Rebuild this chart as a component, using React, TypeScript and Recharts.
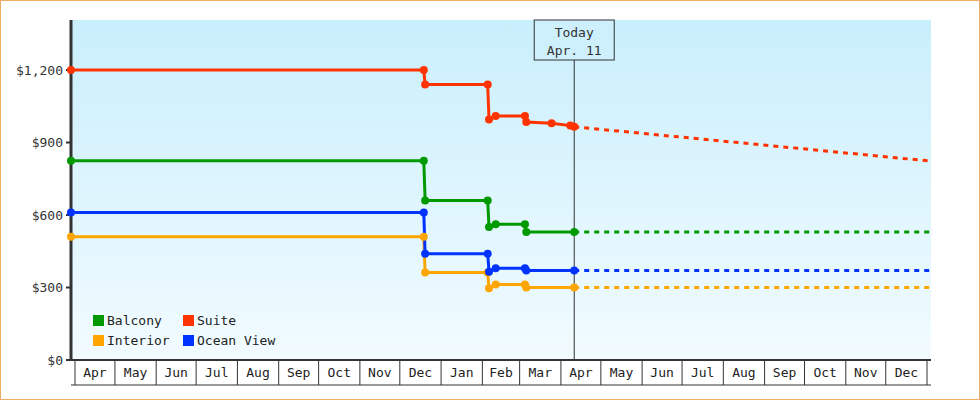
import React from 'react';
import { LineChart, Line, XAxis, YAxis, CartesianGrid, ReferenceLine } from 'recharts';

const FONT = '"DejaVu Sans Mono", monospace';
const DAY = 86400000;
const toDay = (s: string) => Date.parse(s + 'T00:00:00Z') / DAY;

// time range and "today"
const domainStart = '2024-03-29';
const domainEnd = '2026-01-04';
const today = '2025-04-11';
const todayLines = ['Today', 'Apr. 11'];

// month cells on the x axis
const firstMonth = { year: 2024, month: 3 }; // April
const monthLabels = [
  'Apr', 'May', 'Jun', 'Jul', 'Aug', 'Sep', 'Oct', 'Nov', 'Dec',
  'Jan', 'Feb', 'Mar', 'Apr', 'May', 'Jun', 'Jul', 'Aug', 'Sep', 'Oct', 'Nov', 'Dec'
];

const yTicks = [0, 300, 600, 900, 1200];
const yMax = 1407;

// price history
const historyDates = [
  '2024-03-29', '2024-12-19', '2024-12-20', '2025-02-05', '2025-02-06',
  '2025-02-11', '2025-03-05', '2025-03-06', '2025-04-11'
];
const balconyValues = [825, 825, 660, 660, 550, 562, 562, 530, 530];
const interiorValues = [510, 510, 362, 362, 297, 312, 312, 300, 300];
const oceanValues = [610, 610, 440, 440, 365, 380, 380, 370, 370];

const suiteDates = [
  '2024-03-29', '2024-12-19', '2024-12-20', '2025-02-05', '2025-02-06',
  '2025-02-11', '2025-03-05', '2025-03-06', '2025-03-25', '2025-04-08', '2025-04-11'
];
const suiteValues = [1200, 1200, 1140, 1140, 995, 1010, 1010, 985, 980, 970, 965];

// forecast from today to the end of the range
const forecastDates = [today, domainEnd];
const balconyForecast = [530, 530];
const suiteForecast = [965, 823];
const interiorForecast = [300, 300];
const oceanForecast = [370, 370];

const seriesNames = ['Balcony', 'Suite', 'Interior', 'Ocean View'];
const seriesColors = ['#009900', '#ff3300', '#ffa500', '#0033ff'];

const pts = (dates: string[], values: number[]) =>
  dates.map((d, i) => ({ x: toDay(d), y: values[i] }));

const history = [
  pts(historyDates, balconyValues),
  pts(suiteDates, suiteValues),
  pts(historyDates, interiorValues),
  pts(historyDates, oceanValues)
];
const forecast = [
  pts(forecastDates, balconyForecast),
  pts(forecastDates, suiteForecast),
  pts(forecastDates, interiorForecast),
  pts(forecastDates, oceanForecast)
];

const monthStarts = Array.from({ length: monthLabels.length + 1 }, (_, i) =>
  Date.UTC(firstMonth.year, firstMonth.month + i, 1) / DAY
);
const midLabel = new Map<number, string>();
monthLabels.forEach((m, i) => midLabel.set((monthStarts[i] + monthStarts[i + 1]) / 2, m));
const xTicks = [...monthStarts, ...Array.from(midLabel.keys())].sort((a, b) => a - b);

const MonthTick = (props: any) => {
  const { x, y, payload } = props;
  const label = midLabel.get(payload.value);
  if (label === undefined) {
    return <line x1={x} y1={y} x2={x} y2={y + 25} stroke="#333" strokeWidth={1} />;
  }
  return (
    <text x={x} y={y + 17} textAnchor="middle" fontSize={13} fontFamily={FONT} fill="#222">
      {label}
    </text>
  );
};

const TodayLabel = (props: any) => {
  const vb = props.viewBox || {};
  const x = vb.x;
  const top = Math.min(vb.y, vb.y + (vb.height || 0));
  return (
    <g>
      <rect x={x - 40} y={top} width={80} height={40} fill="#cdf0fc" stroke="#333" strokeWidth={1} />
      <text x={x} y={top + 17} textAnchor="middle" fontSize={13} fontFamily={FONT} fill="#333">
        {todayLines[0]}
      </text>
      <text x={x} y={top + 35} textAnchor="middle" fontSize={13} fontFamily={FONT} fill="#333">
        {todayLines[1]}
      </text>
    </g>
  );
};

export default function App() {
  const xDomain = [toDay(domainStart), toDay(domainEnd)];
  return (
    <div style={{ position: 'absolute', left: 0, top: 0, width: 980, height: 400, background: '#fff' }}>
      <LineChart width={980} height={400} margin={{ top: 20, right: 49, bottom: 14, left: 0 }}>
        <defs>
          <linearGradient id="plotBg" x1="0" y1="0" x2="0" y2="1">
            <stop offset="0" stopColor="#c9effc" />
            <stop offset="1" stopColor="#f2fbff" />
          </linearGradient>
        </defs>
        <CartesianGrid horizontal={false} vertical={false} fill="url(#plotBg)" />
        <XAxis
          type="number"
          dataKey="x"
          domain={xDomain}
          ticks={xTicks}
          interval={0}
          height={25}
          tickSize={0}
          tickMargin={0}
          tickLine={false}
          axisLine={{ stroke: '#333', strokeWidth: 2 }}
          tick={<MonthTick />}
        />
        <XAxis
          xAxisId="frame"
          type="number"
          dataKey="x"
          domain={xDomain}
          height={1}
          tick={false}
          tickLine={false}
          axisLine={{ stroke: '#333', strokeWidth: 1 }}
        />
        <YAxis
          type="number"
          domain={[0, yMax]}
          ticks={yTicks}
          width={71}
          tickSize={5}
          tickMargin={3}
          axisLine={{ stroke: '#333', strokeWidth: 3 }}
          tickLine={{ stroke: '#333', strokeWidth: 2 }}
          tick={{ fontSize: 13, fontFamily: FONT, fill: '#333' }}
          tickFormatter={(v: number) => '$' + v.toLocaleString('en-US')}
        />
        <ReferenceLine x={toDay(today)} stroke="#333" strokeWidth={1} label={<TodayLabel />} />
        {forecast.map((d, i) => (
          <Line
            key={'f' + i}
            data={d}
            dataKey="y"
            type="linear"
            stroke={seriesColors[i]}
            strokeWidth={3}
            strokeDasharray="5 5"
            dot={false}
            activeDot={false}
            isAnimationActive={false}
          />
        ))}
        {history.map((d, i) => (
          <Line
            key={'h' + i}
            data={d}
            dataKey="y"
            name={seriesNames[i]}
            type="linear"
            stroke={seriesColors[i]}
            strokeWidth={3}
            dot={{ r: 4, fill: seriesColors[i], stroke: seriesColors[i], strokeWidth: 0, clipDot: false }}
            activeDot={false}
            isAnimationActive={false}
          />
        ))}
      </LineChart>
      {/* legend inside the plot, bottom left */}
      <div
        style={{
          position: 'absolute',
          left: 93,
          top: 310,
          display: 'grid',
          gridTemplateColumns: '90px 110px',
          fontFamily: FONT,
          fontSize: 13,
          color: '#222'
        }}
      >
        {seriesNames.map((n, i) => (
          <div key={n} style={{ display: 'flex', alignItems: 'center', height: 20 }}>
            <span style={{ width: 11, height: 11, background: seriesColors[i], marginRight: 3 }} />
            <span>{n}</span>
          </div>
        ))}
      </div>
      <div
        style={{
          position: 'absolute',
          inset: 0,
          border: '1px solid #efac62',
          boxSizing: 'border-box',
          pointerEvents: 'none'
        }}
      />
    </div>
  );
}
